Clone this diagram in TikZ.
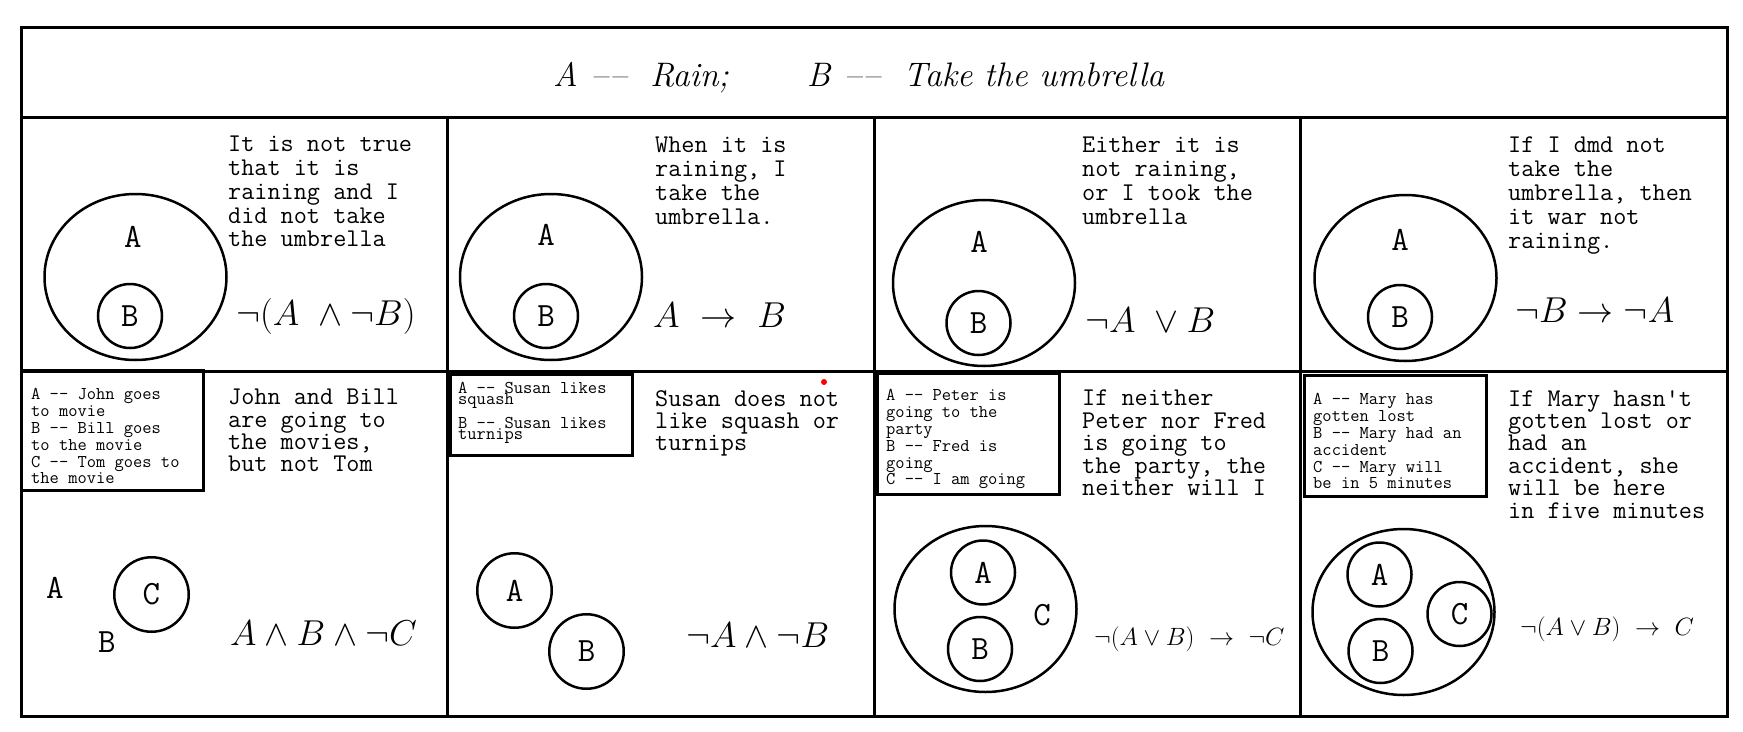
\RequirePackage{fix-cm}
\documentclass[tikz,border=0pt]{standalone}
\usetikzlibrary{shapes.geometric}
\setlength{\lineskiplimit}{-100pt}

\tikzset{
  frame/.style={line width=3pt},
  keybox/.style={line width=3pt},
  bigset/.style={draw,ellipse,line width=2.5pt,inner sep=0pt,minimum width=182pt,minimum height=166pt},
  set/.style={draw,circle,line width=2.5pt,inner sep=0pt,minimum size=#1,font=\fontsize{34}{36}\selectfont\ttfamily},
  set/.default=64pt,
  setlabel/.style={inner sep=0pt,font=\fontsize{34}{36}\selectfont\ttfamily},
  say/.style={anchor=north west,inner sep=0pt,align=left,font=\fontsize{25.5}{#1}\selectfont\ttfamily},
  say/.default=23.8pt,
  key/.style={anchor=north west,inner sep=0pt,align=left,font=\fontsize{18}{#1}\selectfont\ttfamily},
  key/.default=16.9pt,
  formula/.style={anchor=base west,inner sep=0pt,font=\fontsize{#1}{40}\selectfont},
  formula/.default=36pt
}

\begin{document}
\begin{tikzpicture}[x=1pt,y=-1pt]

\useasboundingbox (0,0) rectangle (1743,731);

\draw[frame] (21,27) rectangle (1727,716);
\draw[frame] (21,117)--(1727,117);
\draw[frame] (21,371)--(1727,371);
\foreach \x in {447,874,1300}{
  \draw[frame] (\x,117)--(\x,716);
}

\node[anchor=base west,inner sep=0pt,font=\fontsize{34}{40}\selectfont] (title) at (553,86)
  {\textit{A}\hspace{16pt}\textendash\kern3pt\textendash\hspace{22pt}\textit{Rain;}\hspace{78pt}\textit{B}\hspace{16pt}\textendash\kern3pt\textendash\hspace{22pt}\textit{Take the umbrella}};

\node[bigset] (rain1) at (135.5,277) {};
\node[setlabel] (a1) at (133,237) {A};
\node[set] (b1) at (130,316) {B};
\node[say] (say1) at (228,136) {It is not true\\that it is\\raining and I\\did not take\\the umbrella};
\node[formula] (f1) at (236,325) {$\neg(A\ \wedge\neg B)$};

\node[bigset] (rain2) at (551,277) {};
\node[setlabel] (a2) at (546,235) {A};
\node[set] (b2) at (546,316) {B};
\node[say] (say2) at (655,137) {When it is\\raining, I\\take the\\umbrella.};
\node[formula] (f2) at (653,327) {$A\ \to\ B$};

\node[bigset] (rain3) at (984,283) {};
\node[setlabel] (a3) at (979,242) {A};
\node[set] (b3) at (978.5,323) {B};
\node[say] (say3) at (1082,137) {Either it is\\not raining,\\or I took the\\umbrella};
\node[formula] (f3) at (1085,332) {$\neg A\ \vee B$};

\node[bigset] (rain4) at (1405.5,278) {};
\node[setlabel] (a4) at (1400,240) {A};
\node[set] (b4) at (1400,317) {B};
\node[say] (say4) at (1508,137) {If I dmd not\\take the\\umbrella, then\\it war not\\raining.};
\node[formula] (f4) at (1515,322) {$\neg B\to\neg A$};

\draw[keybox] (21,370) rectangle (203,490);
\node[key] (key5) at (31,388) {A -{}- John goes\\to movie\\B -{}- Bill goes\\to the movie\\C -{}- Tom goes to\\the movie};
\node[say=22.4pt] (say5) at (228,389) {John and Bill\\are going to\\the movies,\\but not Tom};
\node[setlabel] (a5) at (55,588) {A};
\node[set=74.5pt] (c5) at (151.5,594.5) {C};
\node[setlabel] (b5) at (107,642) {B};
\node[formula] (f5) at (230,645) {$A\wedge B\wedge\neg C$};

\draw[keybox] (450,374) rectangle (632,455);
\node[key=11pt] (key6) at (458,382) {A -{}- Susan likes\\squash\\[13pt]B -{}- Susan likes\\turnips};
\node[say=22.4pt] (say6) at (655,390) {Susan does not\\like squash or\\turnips};
\fill[red] (824,382) circle (3pt);
\node[set=74.5pt] (a6) at (514.5,590.5) {A};
\node[set=74.5pt] (b6) at (586.5,651.5) {B};
\node[formula] (f6) at (686,647) {$\neg A\wedge\neg B$};

\draw[keybox] (877,373) rectangle (1059,494);
\node[key] (key7) at (886,389) {A -{}- Peter is\\going to the\\party\\B -{}- Fred is\\going\\C -{}- I am going};
\node[say=22.4pt] (say7) at (1082,390) {If neither\\Peter nor Fred\\is going to\\the party, the\\neither will I};
\node[bigset] (all7) at (985.5,609) {};
\node[set] (a7) at (983,572.5) {A};
\node[set] (b7) at (980,649) {B};
\node[setlabel] (c7) at (1042,615) {C};
\node[formula=25pt] (f7) at (1094,645) {$\neg(A\vee B)\ \to\ \neg C$};

\draw[keybox] (1304,375) rectangle (1486,496);
\node[key] (key8) at (1313,393) {A -{}- Mary has\\gotten lost\\B -{}- Mary had an\\accident\\C -{}- Mary will\\be in 5 minutes};
\node[say=22.4pt] (say8) at (1508,390) {If Mary hasn\textquotesingle t\\gotten lost or\\had an\\accident, she\\will be here\\in five minutes};
\node[bigset] (all8) at (1403.5,612) {};
\node[set] (a8) at (1379.5,574.5) {A};
\node[set] (b8) at (1380.5,651) {B};
\node[set] (c8) at (1459.5,614) {C};
\node[formula=25pt] (f8) at (1520,635) {$\neg(A\vee B)\ \to\ C$};

\end{tikzpicture}
\end{document}
